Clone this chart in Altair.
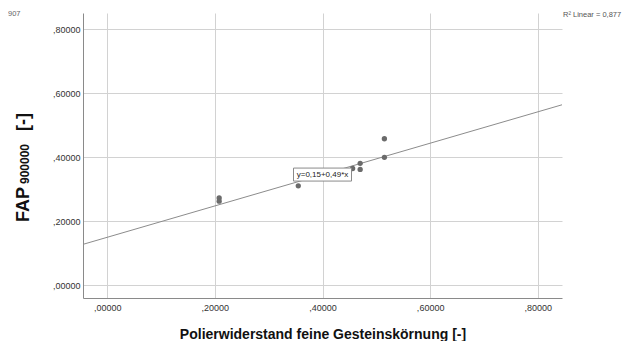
import altair as alt
import pandas as pd

# --- data ---
x_vals = [0.208, 0.208, 0.355, 0.456, 0.470, 0.470, 0.515, 0.515]
y_vals = [0.273, 0.263, 0.311, 0.365, 0.381, 0.362, 0.458, 0.400]
intercept = 0.15
slope = 0.49
line_x = [-0.045, 0.845]
label_x = [0.40]
label_text = ["y=0,15+0,49*x"]
r2_text = "R\u00b2 Linear = 0,877"
tick_vals = [0.0, 0.2, 0.4, 0.6, 0.8]
x_title = "Polierwiderstand feine Gesteinskörnung [-]"

x_domain = [-0.045, 0.845]
y_domain = [-0.0397, 0.8509]

W, H = 479, 285
FONT = "Liberation Sans"

pts = pd.DataFrame({"x": x_vals, "y": y_vals})
ln = pd.DataFrame({"x": line_x})
lab = pd.DataFrame({"x": label_x, "t": label_text})

label_expr = "replace(format(datum.value, '.5f'), '0.', ',')"

xs = alt.Scale(domain=x_domain, nice=False, zero=False)
ys = alt.Scale(domain=y_domain, nice=False, zero=False)

x_axis = alt.Axis(values=tick_vals, labelExpr=label_expr, title=x_title,
                  titleFont=FONT, titleFontSize=14, titleFontWeight="bold",
                  titleColor="#111111", titleBaseline="alphabetic", titleY=40,
                  labelPadding=5)
y_axis = alt.Axis(values=tick_vals, labelExpr=label_expr, title=None,
                  labelPadding=3)

line = alt.Chart(ln).mark_line(color="#8c8c8c", strokeWidth=1).transform_calculate(
    y=f"{intercept} + {slope} * datum.x"
).encode(
    x=alt.X("x:Q", scale=xs, axis=x_axis),
    y=alt.Y("y:Q", scale=ys, axis=y_axis),
)

points = alt.Chart(pts).mark_circle(size=28, color="#6b6b6b", opacity=1).encode(
    x=alt.X("x:Q", scale=xs),
    y=alt.Y("y:Q", scale=ys),
)

box = alt.Chart(lab).mark_point(
    shape="M-1,-0.224H1V0.224H-1Z", size=3364, filled=True,
    fill="white", stroke="#8a8a8a", strokeWidth=1, opacity=1
).transform_calculate(
    y=f"{intercept} + {slope} * datum.x"
).encode(
    x=alt.X("x:Q", scale=xs),
    y=alt.Y("y:Q", scale=ys),
)

box_text = alt.Chart(lab).mark_text(
    font=FONT, fontSize=8, color="#222222", align="center", baseline="middle"
).transform_calculate(
    y=f"{intercept} + {slope} * datum.x"
).encode(
    x=alt.X("x:Q", scale=xs),
    y=alt.Y("y:Q", scale=ys),
    text="t:N",
)

def ann(txt, x, y, size, weight="normal", angle=0, align="left",
        baseline="alphabetic", color="#111111"):
    return alt.Chart(pd.DataFrame({"t": [txt]})).mark_text(
        font=FONT, fontSize=size, fontWeight=weight, angle=angle,
        align=align, baseline=baseline, color=color
    ).encode(x=alt.value(x), y=alt.value(y), text="t:N")

y_t1 = ann("FAP", -54.5, 209, 18, "bold", 270)
y_t2 = ann("900000", -54.0, 171, 12, "bold", 270)
y_t3 = ann("[-]", -54.5, 118, 18, "bold", 270)
r2 = ann(r2_text, 480, 2, 7.5, baseline="middle", color="#555555")
cut = ann("907", -75, 1, 7.5, baseline="middle", color="#666666")

chart = alt.layer(line, points, box, box_text, y_t1, y_t2, y_t3, r2, cut).properties(
    width=W, height=H,
    autosize=alt.AutoSizeParams(type="none"),
    padding={"left": 75, "top": 5, "right": 60, "bottom": 43},
    background="white",
).configure_view(stroke=None).configure_axis(
    grid=True, gridColor="#d2d2d2", gridWidth=1,
    domainColor="#8a8a8a", domainWidth=1, ticks=False,
    labelFont=FONT, labelFontSize=9, labelColor="#333333",
)

chart.save("out.html", embed_options={"renderer": "svg", "actions": False})
